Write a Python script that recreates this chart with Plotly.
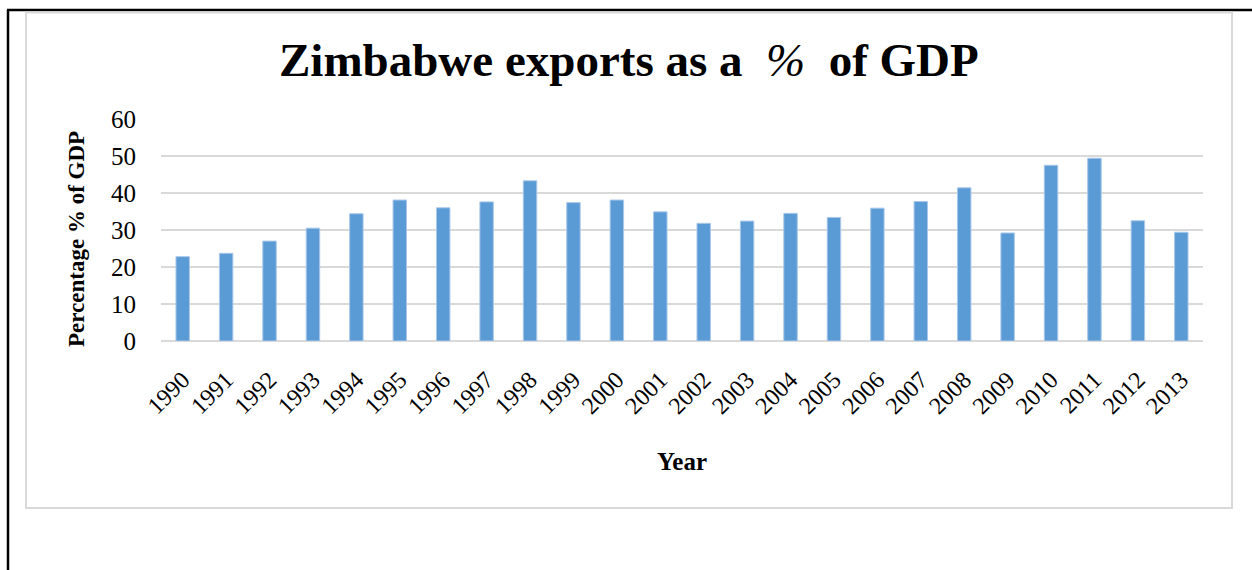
import plotly.graph_objects as go

# Exports of goods and services, % of GDP
years = [str(y) for y in range(1990, 2014)]
exports_pct = [22.8, 23.7, 27.0, 30.5, 34.4, 38.1, 36.0, 37.6, 43.3, 37.4,
               38.1, 34.9, 31.8, 32.4, 34.5, 33.4, 35.9, 37.7, 41.4, 29.2,
               47.5, 49.4, 32.5, 29.4]
y_ticks = [0, 10, 20, 30, 40, 50, 60]

W, H = 1252, 570
L, R, T, B = 161, 1203, 119, 341  # plot area in pixels

def px(x):
    return (x - L) / (R - L)

def py(y):
    return (B - y) / (B - T)

serif = "Liberation Serif, Times New Roman, serif"
grid = "#d9d9d9"

fig = go.Figure(go.Bar(
    x=years, y=exports_pct,
    marker=dict(color="#5b9bd5", line=dict(color="#a9c8ea", width=1)),
    width=0.31,
))

fig.update_layout(
    width=W, height=H,
    margin=dict(l=L, r=W - R, t=T, b=H - B),
    paper_bgcolor="white", plot_bgcolor="white",
    showlegend=False,
    font=dict(family=serif, color="black", size=24),
    xaxis=dict(
        type="category", range=[-0.5, 23.5],
        tickangle=-45, tickfont=dict(family=serif, size=24),
        showgrid=False, ticks="", showline=False, zeroline=False,
        ticklabelstandoff=19,
    ),
    yaxis=dict(
        range=[0, 60], tickvals=y_ticks, ticktext=[str(v) for v in y_ticks],
        tickfont=dict(family=serif, size=25),
        showgrid=True, gridcolor=grid, gridwidth=1.5,
        zeroline=True, zerolinecolor=grid, zerolinewidth=2,
        ticks="", ticklabelstandoff=24, showline=False,
    ),
    shapes=[
        # outer black frame (left and top edges)
        dict(type="line", xref="paper", yref="paper",
             x0=px(8), x1=px(8), y0=py(10), y1=py(575),
             line=dict(color="black", width=2.5)),
        dict(type="line", xref="paper", yref="paper",
             x0=px(7), x1=px(1260), y0=py(10), y1=py(10),
             line=dict(color="black", width=2.5)),
        # light chart-area border
        dict(type="rect", xref="paper", yref="paper",
             x0=px(26), x1=px(1232), y0=py(12.5), y1=py(508),
             line=dict(color=grid, width=2)),
    ],
    annotations=[
        dict(text="<b>Zimbabwe exports as a </b><i> % </i><b> of GDP</b>",
             xref="paper", yref="paper", x=px(629), y=py(60),
             xanchor="center", yanchor="middle", showarrow=False,
             font=dict(family=serif, size=47, color="black")),
        dict(text="<b>Percentage % of GDP</b>",
             xref="paper", yref="paper", x=px(76), y=py(239),
             xanchor="center", yanchor="middle", showarrow=False,
             textangle=-90, font=dict(family=serif, size=23, color="black")),
        dict(text="<b>Year</b>",
             xref="paper", yref="paper", x=px(682), y=py(461),
             xanchor="center", yanchor="middle", showarrow=False,
             font=dict(family=serif, size=25, color="black")),
    ],
)

fig.write_html("out.html")
